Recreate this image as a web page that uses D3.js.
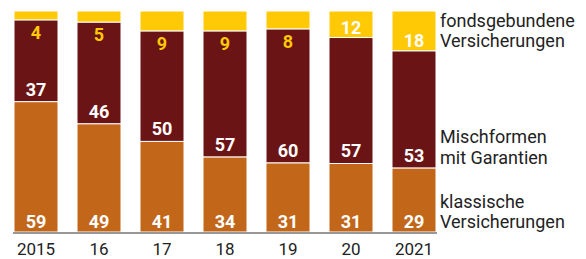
<!DOCTYPE html>
<meta charset="utf-8">
<style>
    body { margin: 0; background: #fff; }
    text { font-family: Roboto, "Noto Sans", sans-serif; }
    .axis-x path { stroke: #333; stroke-width: 1px; }
    .axis-x text { font-size: 17px; fill: #222; }
    .val { font-size: 18px; font-weight: 700; text-anchor: middle; }
    .legend text { font-size: 18px; fill: #222; }
</style>
<body>
    <script src="https://d3js.org/d3.v7.min.js"></script>
    <script>

        // chart values
        var years = ["2015", "16", "17", "18", "19", "20", "2021"];
        var klassisch = [59, 49, 41, 34, 31, 31, 29];
        var mischformen = [37, 46, 50, 57, 60, 57, 53];
        var fonds = [4, 5, 9, 9, 8, 12, 18];
        var seriesKeys = ["klassisch", "misch", "fonds"];
        var legendLines = [
            ["fondsgebundene", "Versicherungen"],
            ["Mischformen", "mit Garantien"],
            ["klassische", "Versicherungen"]
        ];

        var colors = { klassisch: "#c2671a", misch: "#6b1416", fonds: "#ffc905" };

        var width = 586, height = 259;
        var plotTop = 11, plotBase = 232;

        var data = years.map(function(y, i) {
            return { year: y, klassisch: klassisch[i], misch: mischformen[i], fonds: fonds[i] };
        });

        var svg = d3.select("body")
            .append("svg")
            .attr("width", width)
            .attr("height", height);

        // scales
        var x = d3.scaleBand()
            .domain(years)
            .range([14, 436])
            .paddingInner(19 / 63)
            .paddingOuter(0);

        var y = d3.scaleLinear().domain([0, 1]).range([plotBase, plotTop]);

        // stack, each bar shown as 100%
        var stack = d3.stack().keys(seriesKeys).offset(d3.stackOffsetExpand);
        var series = stack(data);

        var layers = svg.append("g")
            .selectAll("g")
            .data(series)
            .join("g")
            .attr("fill", function(s) { return colors[s.key]; });

        layers.selectAll("rect")
            .data(function(s) { return s; })
            .join("rect")
            .attr("x", function(d) { return x(d.data.year); })
            .attr("width", x.bandwidth())
            .attr("y", function(d) { return y(d[1]); })
            .attr("height", function(d) { return y(d[0]) - y(d[1]); })
            .attr("stroke", "#fff")
            .attr("stroke-width", 1);

        // value labels
        var lbl = svg.append("g");
        series.forEach(function(s) {
            s.forEach(function(d) {
                var v = d.data[s.key];
                var cx = x(d.data.year) + x.bandwidth() / 2;
                var ty, fill = "#fff";
                if (s.key === "klassisch") {
                    ty = y(d[0]) - 4;
                } else if (s.key === "misch") {
                    ty = y(d[0]) - 6;
                } else if (v >= 10) {
                    ty = y(d[0]) - 4;
                } else {
                    ty = y(d[0]) + 19;
                    fill = "#ffc905";
                }
                lbl.append("text")
                    .attr("class", "val")
                    .attr("x", cx)
                    .attr("y", ty)
                    .attr("fill", fill)
                    .text(v);
            });
        });

        // x axis
        svg.append("g")
            .attr("class", "axis-x")
            .attr("transform", "translate(0," + (plotBase + 1) + ")")
            .call(d3.axisBottom(x).tickSize(0).tickPadding(7).tickSizeOuter(0))
            .call(function(g) { g.select(".domain").attr("d", "M13,0H437"); })
            .selectAll("text")
            .attr("dy", "0.9em");

        // legend
        var legendY = [[27, 47], [143, 164], [208, 228]];
        var legend = svg.append("g").attr("class", "legend");
        legendLines.forEach(function(lines, i) {
            lines.forEach(function(t, j) {
                legend.append("text")
                    .attr("x", 440)
                    .attr("y", legendY[i][j])
                    .text(t);
            });
        });

    </script>
</body>
